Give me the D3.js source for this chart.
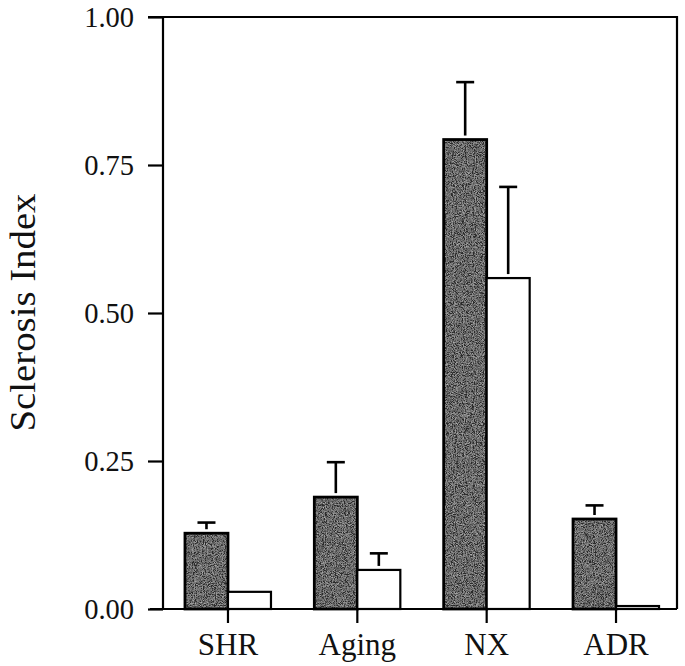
<!DOCTYPE html>
<html>
<head>
<meta charset="utf-8">
<script src="https://cdn.jsdelivr.net/npm/d3@7"></script>
<style>
  html, body { margin: 0; padding: 0; background: #fff; }
  svg { display: block; }
  text { font-family: "Liberation Serif", "Times New Roman", serif; fill: #111; }
</style>
</head>
<body>
<svg id="chart" width="685" height="666"></svg>
<script>
const categories = ["SHR", "Aging", "NX", "ADR"];
const darkValues = [0.128, 0.189, 0.793, 0.152];
const darkErrors = [0.018, 0.059, 0.097, 0.023];
const whiteValues = [0.029, 0.066, 0.559, 0.005];
const whiteErrors = [0, 0.028, 0.154, 0];
const yTickValues = [0, 0.25, 0.5, 0.75, 1.0];
const yLabel = "Sclerosis Index";

const svg = d3.select("#chart");
const frame = { left: 163, right: 677, top: 17, bottom: 609 };

const y = d3.scaleLinear().domain([0, 1]).range([frame.bottom, frame.top]);
const x = d3.scaleBand().domain(categories).range([163.3, 680.7]).padding(0);
const barW = 43;
const capW = 18;

// texture filter for dark bars
const defs = svg.append("defs");
const f = defs.append("filter").attr("id", "grain").attr("x", 0).attr("y", 0).attr("width", 1).attr("height", 1);
f.append("feTurbulence").attr("type", "fractalNoise").attr("baseFrequency", 1.1).attr("numOctaves", 2).attr("seed", 3).attr("result", "noise");
f.append("feColorMatrix").attr("in", "noise").attr("type", "matrix")
  .attr("values", "0.9 0.9 0 0 -0.7  0.9 0.9 0 0 -0.7  0.9 0.9 0 0 -0.7  0 0 0 0 1")
  .attr("result", "gray");
f.append("feComposite").attr("in", "gray").attr("in2", "SourceGraphic").attr("operator", "arithmetic")
  .attr("k1", 0).attr("k2", 0.6).attr("k3", 1).attr("k4", 0).attr("result", "mix");
f.append("feComposite").attr("in", "mix").attr("in2", "SourceAlpha").attr("operator", "in");

// frame
svg.append("path")
  .attr("d", `M${frame.left - 15},${frame.top}H${frame.right}V${frame.bottom}`)
  .attr("fill", "none").attr("stroke", "#000").attr("stroke-width", 2.2);
svg.append("line")
  .attr("x1", frame.left).attr("x2", frame.left).attr("y1", frame.top).attr("y2", frame.bottom)
  .attr("stroke", "#000").attr("stroke-width", 2.2);
svg.append("line")
  .attr("x1", frame.left - 13).attr("x2", frame.right).attr("y1", frame.bottom).attr("y2", frame.bottom)
  .attr("stroke", "#000").attr("stroke-width", 2.2);

// y axis
const yAxis = svg.append("g").attr("transform", `translate(${frame.left},0)`)
  .call(d3.axisLeft(y).tickValues(yTickValues).tickFormat(d3.format(".2f")).tickSize(15).tickPadding(14));
yAxis.select(".domain").remove();
yAxis.selectAll(".tick line").attr("stroke", "#000").attr("stroke-width", 2.2);
yAxis.selectAll(".tick text").attr("font-size", 28.5).attr("fill", "#111")
  .attr("font-family", "'Liberation Serif', 'Times New Roman', serif").attr("dy", "0.34em");

// x axis
const xAxis = svg.append("g").attr("transform", `translate(0,${frame.bottom})`)
  .call(d3.axisBottom(x).tickSize(14));
xAxis.select(".domain").remove();
xAxis.selectAll(".tick line").attr("stroke", "#000").attr("stroke-width", 2.2);
xAxis.selectAll(".tick text").attr("font-size", 31).attr("fill", "#111")
  .attr("font-family", "'Liberation Serif', 'Times New Roman', serif")
  .attr("y", 46).attr("dy", null);

// y label
svg.append("text")
  .attr("transform", "translate(35,312.5) rotate(-90)")
  .attr("text-anchor", "middle")
  .attr("font-size", 36)
  .attr("textLength", 238)
  .attr("lengthAdjust", "spacingAndGlyphs")
  .text(yLabel);

// error bars (upper only)
function errBar(cx, v, e) {
  if (e <= 0) return;
  svg.append("line").attr("x1", cx).attr("x2", cx).attr("y1", y(v) - 4).attr("y2", y(v + e))
    .attr("stroke", "#000").attr("stroke-width", 2.6);
  svg.append("line").attr("x1", cx - capW / 2).attr("x2", cx + capW / 2).attr("y1", y(v + e)).attr("y2", y(v + e))
    .attr("stroke", "#000").attr("stroke-width", 2.6);
}

categories.forEach((c, i) => {
  const cx = x(c) + x.bandwidth() / 2;
  errBar(cx - barW / 2, darkValues[i], darkErrors[i]);
  errBar(cx + barW / 2, whiteValues[i], whiteErrors[i]);
});

// dark bars
svg.append("g").selectAll("rect").data(categories).join("rect")
  .attr("x", (c) => x(c) + x.bandwidth() / 2 - barW)
  .attr("y", (c, i) => y(darkValues[i]))
  .attr("width", barW)
  .attr("height", (c, i) => y(0) - y(darkValues[i]))
  .attr("fill", "#2a2a2a")
  .attr("filter", "url(#grain)");
svg.append("g").selectAll("rect").data(categories).join("rect")
  .attr("x", (c) => x(c) + x.bandwidth() / 2 - barW)
  .attr("y", (c, i) => y(darkValues[i]))
  .attr("width", barW)
  .attr("height", (c, i) => y(0) - y(darkValues[i]))
  .attr("fill", "none")
  .attr("stroke", "#000").attr("stroke-width", 2.8);

// white bars
svg.append("g").selectAll("rect").data(categories).join("rect")
  .attr("x", (c) => x(c) + x.bandwidth() / 2)
  .attr("y", (c, i) => y(whiteValues[i]))
  .attr("width", barW)
  .attr("height", (c, i) => y(0) - y(whiteValues[i]))
  .attr("fill", "#fff")
  .attr("stroke", "#000").attr("stroke-width", 2.2);
</script>
</body>
</html>
